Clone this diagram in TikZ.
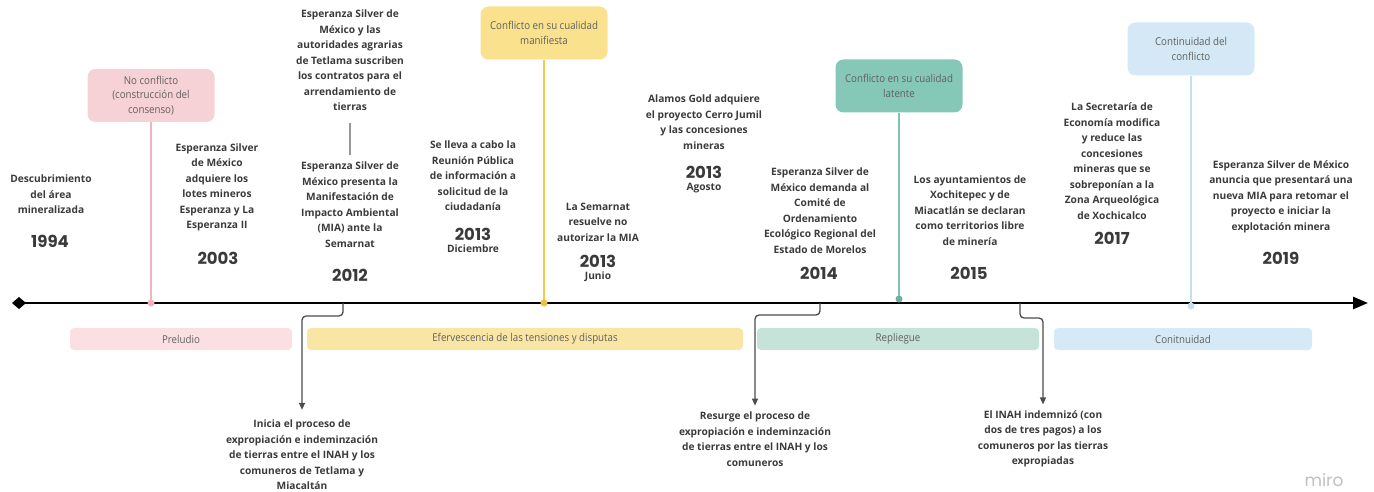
\documentclass[tikz,border=0pt]{standalone}
\usepackage{fontspec}
\setmainfont{Open Sans}
\newfontfamily\yearfont{Poppins}
\newfontfamily\narrowfont{Open Sans}[FakeStretch=0.9]
\usepackage{xcolor}
\usetikzlibrary{calc, positioning, arrows.meta}

\definecolor{txt}{HTML}{3A3A3A}
\definecolor{softtxt}{HTML}{606060}
\definecolor{pinkA}{HTML}{F6D1D5}
\definecolor{pinkB}{HTML}{F4B3BC}
\definecolor{pinkC}{HTML}{FCDFE2}
\definecolor{yelA}{HTML}{F9E18E}
\definecolor{yelB}{HTML}{F3CC4F}
\definecolor{yelC}{HTML}{F9E6A4}
\definecolor{grnA}{HTML}{86C8B8}
\definecolor{grnB}{HTML}{80C3B2}
\definecolor{grnC}{HTML}{C6E3DA}
\definecolor{bluA}{HTML}{D4E9F5}
\definecolor{bluB}{HTML}{C4E1F2}
\definecolor{bluC}{HTML}{D5EAF6}

\begin{document}
\begin{tikzpicture}[x=1pt, y=-1pt,
		event/.style={align=center, inner sep=0pt, text=txt, font=\bfseries\fontsize{10.2}{15.5}\selectfont},
		year/.style={inner sep=0pt, text=txt, font=\yearfont\bfseries\fontsize{16.5}{17}\selectfont},
		month/.style={inner sep=0pt, text=txt, font=\bfseries\fontsize{10.2}{11}\selectfont},
		stage/.style={rounded corners=8pt, minimum width=127pt, minimum height=53pt, inner sep=0pt, align=center, text=softtxt, font=\narrowfont\fontsize{10.8}{14.5}\selectfont},
		phase/.style={rounded corners=4pt, minimum height=22pt, inner sep=0pt, text=softtxt, font=\narrowfont\fontsize{10.8}{12}\selectfont},
		elbow/.style={draw=black!70, line width=1.3pt, rounded corners=4pt, -{Triangle[length=7pt,width=6pt]}},
	]
		\useasboundingbox (0,0) rectangle (1374,492);
		
		\def\yAX{303};
		
		\coordinate (start) at (12,\yAX);
		\coordinate (end) at (1368,\yAX);
	
		% linea de tiempo
		\draw [line width=2.6pt, {Diamond[length=14pt,width=12pt]}-{Triangle[length=15pt,width=12pt]}] (start) -- (end);
		
		% etapas del conflicto
		\node [stage, fill=pinkA] (noconf) at (151,95.5) {No conflicto\\(construcción del\\consenso)};
		\node [stage, fill=yelA] (manif) at (544,33) {Conflicto en su cualidad\\manifiesta};
		\node [stage, fill=grnA] (latente) at (899,86) {Conflicto en su cualidad\\latente};
		\node [stage, fill=bluA] (contin) at (1191,49) {Continuidad del\\conflicto};
		
		\coordinate (d1) at (151,\yAX);
		\coordinate (d2) at (544,\yAX);
		\coordinate (d3) at (899,299);
		\coordinate (d4) at (1191,306);
		
		\draw [pinkB, line width=1.3pt] (noconf) -- (d1);
		\draw [yelB, line width=1.3pt] (manif) -- (d2);
		\draw [grnB, line width=1.3pt] (latente) -- (d3);
		\draw [bluB, line width=1.3pt] (contin) -- (d4);
		\fill [pinkB] (d1) circle (3.5pt);
		\fill [yelB!80!orange] (d2) circle (3.5pt);
		\fill [grnB!90!black] (d3) circle (3.5pt);
		\fill [bluB] (d4) circle (3.5pt);
		
		% eventos
		\node [event] (descub) at (51,194.5) {Descubrimiento\\del área\\mineralizada};
		\node [year] (y1994) at (50,241) {1994};
		
		\node [event] (lotes) at (217,187.5) {Esperanza Silver\\de México\\adquiere los\\lotes mineros\\Esperanza y La\\Esperanza II};
		\node [year] (y2003) at (218,258) {2003};
		
		\node [event] (contratos) at (350,60.5) {Esperanza Silver de\\México y las\\autoridades agrarias\\de Tetlama suscriben\\los contratos para el\\arrendamiento de\\tierras};
		\node [event] (mia) at (350,204.5) {Esperanza Silver de\\México presenta la\\Manifestación de\\Impacto Ambiental\\(MIA) ante la\\Semarnat};
		\node [year] (y2012) at (350,275) {2012};
		\draw [black!40, line width=1.3pt, shorten <=12pt, shorten >=7pt] (contratos) -- (mia);
		
		\node [event] (reunion) at (473,176) {Se lleva a cabo la\\Reunión Pública\\de información a\\solicitud de la\\ciudadanía};
		\node [year] (y2013a) at (473,234) {2013};
		\node [month] (dic) at (473,249) {Diciembre};
		
		\node [event] (semarnat) at (598,222) {La Semarnat\\resuelve no\\autorizar la MIA};
		\node [year] (y2013b) at (598,261) {2013};
		\node [month] (jun) at (598,277) {Junio};
		
		\node [event] (alamos) at (704,122) {Alamos Gold adquiere\\el proyecto Cerro Jumil\\y las concesiones\\mineras};
		\node [year] (y2013c) at (704,172) {2013};
		\node [month] (ago) at (704,188) {Agosto};
		
		\node [event] (demanda) at (820,210.5) {Esperanza Silver de\\México demanda al\\Comité de\\Ordenamiento\\Ecológico Regional del\\Estado de Morelos};
		\node [year] (y2014) at (819,273) {2014};
		
		\node [event] (ayunt) at (970,210.5) {Los ayuntamientos de\\Xochitepec y de\\Miacatlán se declaran\\como territorios libre\\de minería};
		\node [year] (y2015) at (969,273) {2015};
		
		\node [event] (secret) at (1112,161) {La Secretaría de\\Economía modifica\\y reduce las\\concesiones\\mineras que se\\sobreponían a la\\Zona Arqueológica\\de Xochicalco};
		\node [year] (y2017) at (1112,238) {2017};
		
		\node [event] (anuncia) at (1281,196.5) {Esperanza Silver de México\\anuncia que presentará una\\nueva MIA para retomar el\\proyecto e iniciar la\\explotación minera};
		\node [year] (y2019) at (1281,258) {2019};
		
		% fases
		\node [phase, fill=pinkC, minimum width=222pt] (preludio) at (181,339) {Preludio};
		\node [phase, fill=yelC, minimum width=436pt] (eferv) at (525,339) {Efervescencia de las tensiones y disputas};
		\node [phase, fill=grnC, minimum width=282pt] (repl) at (898,339) {Repliegue};
		\node [phase, fill=bluC, minimum width=258pt] (conit) at (1183,339) {Conitnuidad};
		
		% eventos abajo de la linea
		\node [event] (inicia) at (302,455) {Inicia el proceso de\\expropiación e indeminzación\\de tierras entre el INAH y los\\comuneros de Tetlama y\\Miacaltán};
		\node [event] (resurge) at (755,439) {Resurge el proceso de\\expropiación e indeminzación\\de tierras entre el INAH y los\\comuneros};
		\node [event] (indem) at (1043,439) {El INAH indemnizó (con\\dos de tres pagos) a los\\comuneros por las tierras\\expropiadas};
		
		\coordinate (k1) at (343,\yAX);
		\coordinate (k2) at (820,\yAX);
		\coordinate (k3) at (1020,\yAX);
		
		\draw [elbow, shorten >=10pt] (k1) -- ++(0,13) -| (inicia.north);
		\draw [elbow, shorten >=6pt] (k2) -- ++(0,12) -| (resurge.north);
		\draw [elbow, shorten >=6pt] (k3) -- ++(0,15) -| (indem.north);
		
		\node [text=black!25, font=\yearfont\fontsize{17}{18}\selectfont] (miro) at (1324,480) {miro};
	\end{tikzpicture}
\end{document}
